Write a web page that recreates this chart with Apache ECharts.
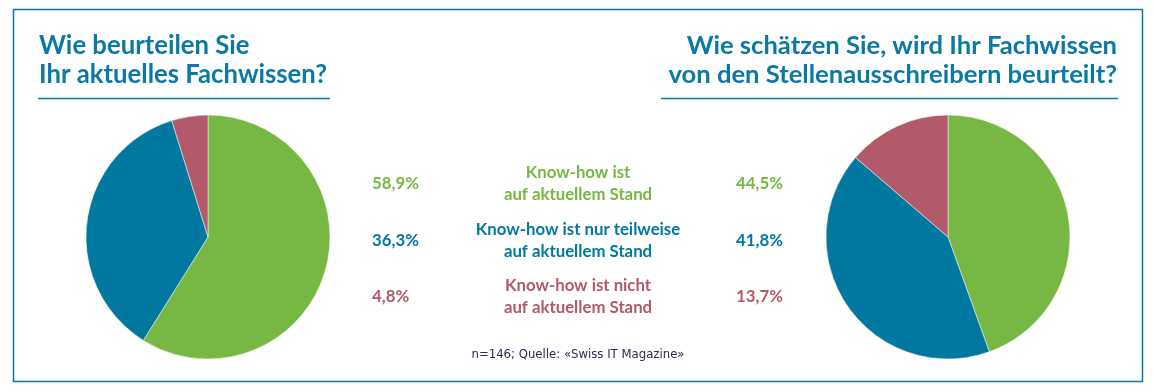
<!DOCTYPE html>
<html>
<head>
<meta charset="utf-8">
<script src="https://cdn.jsdelivr.net/npm/echarts@6/dist/echarts.min.js"></script>
<style>
html,body{margin:0;padding:0;background:#fff;}
#c{width:1154px;height:392px;}
</style>
</head>
<body>
<div id="c"></div>
<script>
const categories = ['Know-how ist\nauf aktuellem Stand', 'Know-how ist nur teilweise\nauf aktuellem Stand', 'Know-how ist nicht\nauf aktuellem Stand'];
const ownRating = [58.9, 36.3, 4.8];
const employerRating = [44.5, 41.8, 13.7];
const leftTitleLines = ['Wie beurteilen Sie', 'Ihr aktuelles Fachwissen?'];
const rightTitleLines = ['Wie schätzen Sie, wird Ihr Fachwissen', 'von den Stellenausschreibern beurteilt?'];
const sourceNote = 'n=146; Quelle: «Swiss IT Magazine»';
const colors = ['#76b843', '#0078a0', '#b35a6a'];

const NOTE_FONT = '"DejaVu Sans Condensed", "Liberation Sans", sans-serif';
const TEAL = '#0a79a3';

// pick the narrowest installed bold family and fit its size to the reference widths
const ctx = document.createElement('canvas').getContext('2d');
function w(text, font) { ctx.font = font; return ctx.measureText(text).width; }
const families = ['"Liberation Sans Narrow"', 'Lato', '"DejaVu Sans Condensed"', 'Roboto', '"Open Sans"'];
let best = null;
families.forEach(f => {
  const wf = w(rightTitleLines[0], 'bold 100px ' + f + ', monospace');
  const wm = w(rightTitleLines[0], 'bold 100px monospace');
  if (Math.abs(wf - wm) < 0.5) return;
  if (!best || wf < best.w) best = { f: f, w: wf };
});
const FAMILY = best ? best.f : 'sans-serif';
function fitSize(lines, widths) {
  let s = 0;
  lines.forEach((l, i) => { s += widths[i] / w(l, 'bold 100px ' + FAMILY) * 100; });
  return s / lines.length;
}
const leftSize = fitSize(leftTitleLines, [208, 291]);
const rightSize = fitSize(rightTitleLines, [425, 454]);
const bodySize = fitSize(['Know-how ist nur teilweise', 'auf aktuellem Stand', '58,9%'], [204, 151, 46]);

function fmt(v) { return v.toFixed(1).replace('.', ',') + '%'; }

const chart = echarts.init(document.getElementById('c'), null, { renderer: 'canvas' });

const rowY = [184, 241, 297];
const titleY = [46, 75];
const bodyFont = 'bold ' + bodySize.toFixed(1) + 'px ' + FAMILY;
const graphics = [
  { type: 'rect', shape: { x: 13.5, y: 9.5, width: 1129, height: 372 }, style: { fill: 'none', stroke: TEAL, lineWidth: 1.5 }, silent: true },
  { type: 'line', shape: { x1: 38, y1: 98.5, x2: 330, y2: 98.5 }, style: { stroke: TEAL, lineWidth: 1.5 }, silent: true },
  { type: 'line', shape: { x1: 661, y1: 98.5, x2: 1118, y2: 98.5 }, style: { stroke: TEAL, lineWidth: 1.5 }, silent: true },
  { type: 'text', x: 578, y: 355, style: { text: sourceNote, font: '13px ' + NOTE_FONT, fill: '#2b2a58', textAlign: 'center', textVerticalAlign: 'middle' }, silent: true }
];
leftTitleLines.forEach((t, i) => {
  graphics.push({ type: 'text', x: 39, y: titleY[i], style: { text: t, font: 'bold ' + leftSize.toFixed(1) + 'px ' + FAMILY, fill: TEAL, textAlign: 'left', textVerticalAlign: 'middle' }, silent: true });
});
rightTitleLines.forEach((t, i) => {
  graphics.push({ type: 'text', x: 1117, y: titleY[i], style: { text: t, font: 'bold ' + rightSize.toFixed(1) + 'px ' + FAMILY, fill: TEAL, textAlign: 'right', textVerticalAlign: 'middle' }, silent: true });
});
categories.forEach((c, i) => {
  graphics.push({ type: 'text', x: 372, y: rowY[i], style: { text: fmt(ownRating[i]), font: bodyFont, fill: colors[i], textAlign: 'left', textVerticalAlign: 'middle' }, silent: true });
  graphics.push({ type: 'text', x: 783, y: rowY[i], style: { text: fmt(employerRating[i]), font: bodyFont, fill: colors[i], textAlign: 'right', textVerticalAlign: 'middle' }, silent: true });
  graphics.push({ type: 'text', x: 578, y: rowY[i], style: { text: c, font: bodyFont, fill: colors[i], textAlign: 'center', textVerticalAlign: 'middle', lineHeight: 22 }, silent: true });
});

function pie(center, values) {
  return {
    type: 'pie', center: center, radius: 122, startAngle: 90, clockwise: true,
    label: { show: false }, labelLine: { show: false }, silent: true, animation: false,
    itemStyle: { borderColor: '#fff', borderWidth: 0.5 },
    data: values.map((v, i) => ({ value: v, name: categories[i], itemStyle: { color: colors[i] } }))
  };
}

chart.setOption({
  backgroundColor: '#fff',
  animation: false,
  graphic: graphics,
  series: [pie([208, 237], ownRating), pie([948, 237], employerRating)]
});
</script>
</body>
</html>
